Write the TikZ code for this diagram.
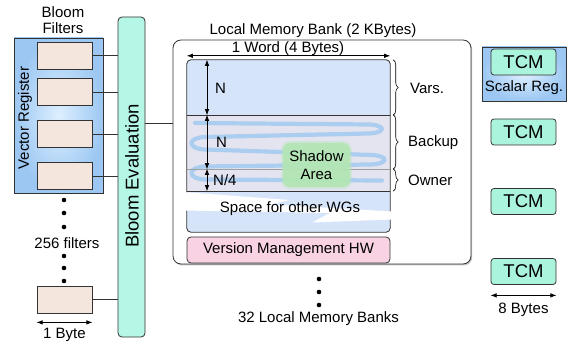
\documentclass[tikz,border=0pt]{standalone}
\usepackage{fontspec}
\setmainfont{Liberation Sans}
\usetikzlibrary{arrows.meta,shadows,decorations.pathreplacing}

\definecolor{linegray}{HTML}{333333}
\definecolor{filterfill}{HTML}{F5E6DD}
\definecolor{bloomfill}{HTML}{B5F7E6}
\definecolor{tcmfill}{HTML}{AAF3DC}
\definecolor{regin}{HTML}{DDEFFF}
\definecolor{regout}{HTML}{9CC7F2}
\definecolor{varsfill}{HTML}{D6E4FA}
\definecolor{backfill}{HTML}{E3E4EF}
\definecolor{vmfill}{HTML}{F9D3E3}
\definecolor{swirlblue}{HTML}{A6CBEF}
\definecolor{shadowgreen}{HTML}{B2E6B4}

\begin{document}
\begin{tikzpicture}[x=1pt,y=-1pt,
  lbl/.style={font=\fontsize{15}{17}\selectfont, inner sep=0pt},
  bigl/.style={font=\fontsize{18.5}{20}\selectfont, inner sep=0pt},
  box/.style={draw=linegray, line width=0.8pt},
  regbox/.style={box, inner color=regin, outer color=regout, inner sep=0pt},
  filterbox/.style={box, fill=filterfill, minimum width=55pt, minimum height=27pt, inner sep=0pt},
  tcm/.style={box, fill=tcmfill, rounded corners=3pt, minimum width=65pt, minimum height=26pt, inner sep=0pt, font=\fontsize{18.5}{20}\selectfont},
  region/.style={minimum width=203pt, inner sep=0pt, draw=none},
  dimarrow/.style={{Latex[length=6pt,width=4.5pt]}-{Latex[length=6pt,width=4.5pt]}, line width=0.7pt},
  wire/.style={line width=0.7pt, draw=linegray},
  dotmark/.style={circle, fill=black, inner sep=0pt, minimum size=4.6pt},
  bracemark/.style={decorate, decoration={brace, amplitude=5pt}, line width=0.6pt},
  softshadow/.style={drop shadow={shadow xshift=1.2pt, shadow yshift=-1.5pt, opacity=0.45}}
]
\useasboundingbox (0,0) rectangle (571,342);

% ---------- Bloom filters in the vector register ----------
\node[lbl, align=center, font=\fontsize{15}{16}\selectfont] (bftitle) at (63,20.5) {Bloom\\Filters};
\node[regbox, softshadow, minimum width=89pt, minimum height=155pt] (vreg) at (58.5,115.5) {};
\node[lbl, rotate=90] (vregtext) at (25,118) {Vector Register};
\node[filterbox] (f1) at (64.5,55.5) {};
\node[filterbox] (f2) at (64.5,92) {};
\node[filterbox] (f3) at (64.5,134) {};
\node[filterbox] (f4) at (64.5,176) {};
\node[filterbox] (f5) at (64.5,299.5) {};

\node[dotmark] (fd1) at (64,200) {};
\node[dotmark] (fd2) at (64,213) {};
\node[dotmark] (fd3) at (64,227) {};
\node[lbl] (nfilters) at (67,243) {256 filters};
\node[dotmark] (fd4) at (64,256) {};
\node[dotmark] (fd5) at (64,268) {};
\node[dotmark] (fd6) at (64,281) {};

\draw[dimarrow] ([yshift=-9pt]f5.south west) -- ([yshift=-9pt]f5.south east);
\node[lbl] (byte1) at (64.5,335) {1 Byte};

% ---------- Bloom evaluation ----------
\node[box, fill=bloomfill, rounded corners=4pt, minimum width=27pt, minimum height=320pt, inner sep=0pt] (bloom) at (131.5,177) {};
\node[bigl, rotate=90] (bloomtext) at (132,176) {Bloom Evaluation};

\foreach \f in {f1,f2,f3,f4,f5}
  \draw[wire] (\f.east) -- (\f.east -| bloom.west);

% ---------- Local memory bank ----------
\node[lbl] (banktitle) at (313,31) {Local Memory Bank (2 KBytes)};
\node[box, fill=white, rounded corners=8pt, softshadow, minimum width=298pt, minimum height=224pt, inner sep=0pt] (bank) at (322,152) {};
\coordinate (linky) at (0,123);
\draw[wire] (bloom.east |- linky) -- (bank.west |- linky);

\node[lbl] (wordtitle) at (288,48.5) {1 Word (4 Bytes)};

\begin{scope}
  \clip[rounded corners=4pt] (187,60) rectangle (390,232);
  \node[region, fill=varsfill, minimum height=55pt] (vars) at (288.5,87.5) {};
  \node[region, fill=backfill, minimum height=54pt] (backup) at (288.5,142) {};
  \node[region, fill=backfill, minimum height=22pt] (owner) at (288.5,180) {};
  \node[region, fill=varsfill, minimum height=41pt] (space) at (288.5,211.5) {};
  % coiled stream of versions through the backup/owner rows
  \draw[swirlblue, line width=4.2pt, line cap=round, opacity=0.9]
    (195,123) -- (370,124.5) .. controls (386,125.5) and (386,133) .. (368,133.5)
    -- (205,137) .. controls (187,137.5) and (187,149) .. (205,149.5)
    -- (372,155) .. controls (389,156) and (389,164) .. (370,164.5)
    -- (205,166.5) .. controls (187,167) and (187,179) .. (205,179.5)
    -- (382,180.5);
\end{scope}
\draw[box, rounded corners=4pt] (vars.north west) rectangle (space.south east);
\draw[wire] (vars.south west) -- (vars.south east);
\draw[gray!75, line width=0.8pt] (backup.south west) -- (backup.south east);
\draw[linegray, line width=1.3pt] (owner.south west) -- (owner.south east);

% break mark across the space of other work-groups
\fill[white] (183,192) -- (290,200) -- (270,204.5) -- (392.5,211.5) -- (392.5,219.5)
  -- (312,222.5) -- (330,213) -- (183,210.5) -- cycle;
\node[lbl] (spacetext) at (290,209) {Space for other WGs};

\draw[dimarrow] ([yshift=4pt]vars.north west) -- ([yshift=4pt]vars.north east);

\coordinate (ax) at (207,0);
\draw[dimarrow] (vars.north -| ax) -- (vars.south -| ax);
\draw[dimarrow] (backup.north -| ax) -- (backup.south -| ax);
\draw[dimarrow] (owner.north -| ax) -- (owner.south -| ax);
\node[lbl, anchor=west] (nvars) at (215,88) {N};
\node[lbl, anchor=west] (nback) at (216,142) {N};
\node[lbl, anchor=west] (nown) at (213,180.5) {N/4};

% shadow area (soft green patch)
\fill[shadowgreen, opacity=0.35, rounded corners=9pt] (281,141) rectangle (352,189);
\node[fill=shadowgreen, opacity=0.9, text opacity=1, rounded corners=7pt, minimum width=67pt, minimum height=44pt, inner sep=0pt,
  align=center, font=\fontsize{15}{18}\selectfont] (shadow) at (316.5,165) {Shadow\\Area};

% region braces
\draw[bracemark] ([xshift=3pt]vars.north east) -- ([xshift=3pt]vars.south east);
\draw[bracemark] ([xshift=3pt]backup.north east) -- ([xshift=3pt]backup.south east);
\draw[bracemark] ([xshift=3pt]owner.north east) -- ([xshift=3pt]owner.south east);
\node[lbl, anchor=west] (varslbl) at (410,88) {Vars.};
\node[lbl, anchor=west] (backlbl) at (408,142.5) {Backup};
\node[lbl, anchor=west] (ownlbl) at (408,180.5) {Owner};

\node[box, fill=vmfill, rounded corners=4pt, minimum width=203pt, minimum height=26pt, inner sep=0pt, lbl] (vm) at (288.5,250) {Version Management HW};

\node[dotmark] (bd1) at (319,279) {};
\node[dotmark] (bd2) at (319,292) {};
\node[dotmark] (bd3) at (319,305) {};
\node[lbl] (nbanks) at (318.5,319) {32 Local Memory Banks};

% ---------- scalar register / TCMs ----------
\node[regbox, softshadow, minimum width=84pt, minimum height=54pt] (sreg) at (524,74) {};
\node[tcm] (t1) at (523.5,62) {TCM};
\node[lbl] (sregtext) at (524,88) {Scalar Reg.};
\node[tcm] (t2) at (523.5,132) {TCM};
\node[tcm] (t3) at (523.5,201.5) {TCM};
\node[tcm] (t4) at (523.5,271.5) {TCM};
\draw[dimarrow] ([yshift=-10.5pt]t4.south west) -- ([yshift=-10.5pt]t4.south east);
\node[lbl] (bytes8) at (523.5,310) {8 Bytes};

\end{tikzpicture}
\end{document}
